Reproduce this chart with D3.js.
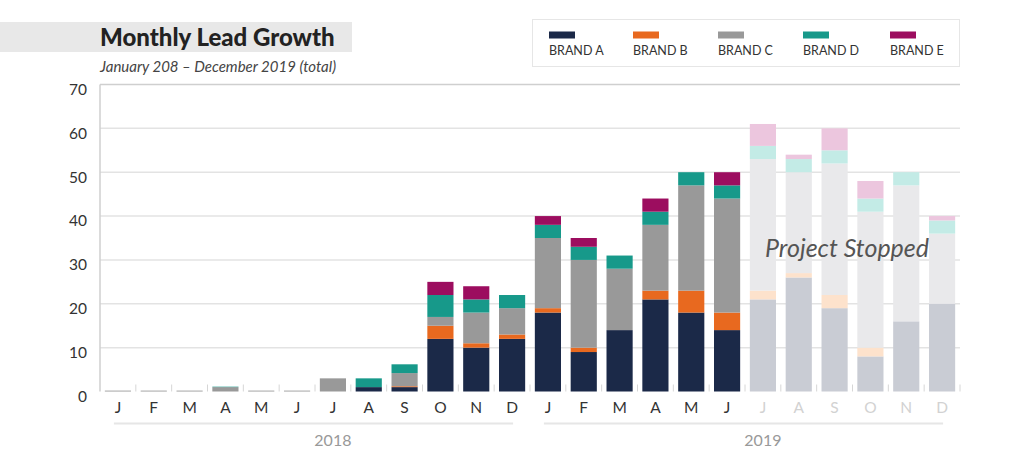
<!DOCTYPE html>
<html>
<head>
<meta charset="utf-8">
<script src="https://cdn.jsdelivr.net/npm/d3@7"></script>
<style>
  body { margin: 0; background: #fff; }
  svg { display: block; font-family: Lato, 'Open Sans', sans-serif; }
</style>
</head>
<body>
<div id="chart"></div>
<script>
// months Jan 2018 - Dec 2019
const months = ['J', 'F', 'M', 'A', 'M', 'J', 'J', 'A', 'S', 'O', 'N', 'D',
  'J', 'F', 'M', 'A', 'M', 'J', 'J', 'A', 'S', 'O', 'N', 'D']
const years = ['2018', '2019']
const brands = ['BRAND A', 'BRAND B', 'BRAND C', 'BRAND D', 'BRAND E']
const brandA = [0, 0, 0, 0, 0, 0, 0, 1, 1, 12, 10, 12, 18, 9, 14, 21, 18, 14, 21, 26, 19, 8, 16, 20]
const brandB = [0, 0, 0, 0, 0, 0, 0, 0, 0.2, 3, 1, 1, 1, 1, 0, 2, 5, 4, 2, 1, 3, 2, 0, 0]
const brandC = [0.2, 0.2, 0.2, 1, 0.2, 0.2, 3, 0, 3, 2, 7, 6, 16, 20, 14, 15, 24, 26, 30, 23, 30, 31, 31, 16]
const brandD = [0, 0, 0, 0.1, 0, 0, 0, 2, 2, 5, 3, 3, 3, 3, 3, 3, 3, 3, 3, 3, 3, 3, 3, 3]
const brandE = [0, 0, 0, 0, 0, 0, 0, 0, 0, 3, 3, 0, 2, 2, 0, 3, 0, 3, 5, 1, 5, 4, 0, 1]
const stoppedFrom = 18 // Jul 2019 onwards is faded
const yTicks = [0, 10, 20, 30, 40, 50, 60, 70]

const colors = ['#1b2948', '#e8691f', '#999999', '#17998a', '#9c0d5f']
const fadedColors = ['#c9ccd4', '#fde2cc', '#e9e9eb', '#c3ebe6', '#ecc6de']

const width = 1024
const height = 466
const margin = { top: 84.5, right: 64, bottom: 74.5, left: 100 }

const svg = d3.select('#chart')
  .append('svg')
  .attr('width', width)
  .attr('height', height)

const x = d3.scaleBand()
  .domain(d3.range(months.length))
  .range([margin.left, width - margin.right])
  .paddingInner(0.27)
  .paddingOuter(0.135)

const y = d3.scaleLinear()
  .domain([0, 70])
  .range([height - margin.bottom, margin.top])

// title block
svg.append('rect')
  .attr('x', 0).attr('y', 22)
  .attr('width', 352).attr('height', 30)
  .attr('fill', '#e8e8e8')
svg.append('text')
  .attr('x', 100).attr('y', 45.5)
  .attr('font-size', 24)
  .attr('font-weight', 900)
  .attr('fill', '#222')
  .text('Monthly Lead Growth')
svg.append('text')
  .attr('x', 100).attr('y', 72)
  .attr('font-size', 15)
  .attr('font-style', 'italic')
  .attr('fill', '#444')
  .text('January 208 – December 2019 (total)')

// legend
const legend = svg.append('g')
legend.append('rect')
  .attr('x', 532.5).attr('y', 19.5)
  .attr('width', 427).attr('height', 47)
  .attr('fill', '#fff')
  .attr('stroke', '#e6e6e6')
const legendX = [549, 633, 718, 803, 890]
brands.forEach((b, i) => {
  legend.append('rect')
    .attr('x', legendX[i]).attr('y', 31.5)
    .attr('width', 26).attr('height', 7)
    .attr('fill', colors[i])
  legend.append('text')
    .attr('x', legendX[i]).attr('y', 54.5)
    .attr('font-size', 12.5)
    .attr('fill', '#333')
    .text(b)
})

// gridlines
svg.append('g')
  .selectAll('line')
  .data(yTicks.slice(1))
  .enter()
  .append('line')
  .attr('x1', margin.left)
  .attr('x2', width - margin.right)
  .attr('y1', d => y(d))
  .attr('y2', d => y(d))
  .attr('stroke', d => d === 70 ? '#cfcfcf' : '#e3e3e3')
  .attr('stroke-width', 1.5)

svg.append('line')
  .attr('x1', margin.left).attr('x2', margin.left)
  .attr('y1', y(70)).attr('y2', y(0))
  .attr('stroke', '#cfcfcf')
  .attr('stroke-width', 1.5)

// y labels
svg.append('g')
  .selectAll('text')
  .data(yTicks)
  .enter()
  .append('text')
  .attr('x', 87)
  .attr('y', d => y(d) + 5)
  .attr('dy', '0.35em')
  .attr('text-anchor', 'end')
  .attr('font-size', 15.5)
  .attr('fill', '#333')
  .text(d => d)

// stacked bars
const table = months.map((m, i) => ({
  i,
  v: [brandA[i], brandB[i], brandC[i], brandD[i], brandE[i]]
}))
const stack = d3.stack()
  .keys([0, 1, 2, 3, 4])
  .value((d, k) => d.v[k])(table)

svg.append('g')
  .selectAll('g')
  .data(stack)
  .enter()
  .append('g')
  .selectAll('rect')
  .data(layer => layer.map(s => ({ s, k: layer.key })))
  .enter()
  .append('rect')
  .attr('x', d => x(d.s.data.i))
  .attr('width', x.bandwidth())
  .attr('y', d => y(d.s[1]))
  .attr('height', d => y(d.s[0]) - y(d.s[1]))
  .attr('fill', d => d.s.data.i >= stoppedFrom ? fadedColors[d.k] : colors[d.k])

// band ticks along the baseline
svg.append('g')
  .selectAll('line')
  .data(d3.range(1, months.length + 1))
  .enter()
  .append('line')
  .attr('x1', d => margin.left + d * x.step())
  .attr('x2', d => margin.left + d * x.step())
  .attr('y1', y(0) - 7)
  .attr('y2', y(0))
  .attr('stroke', '#d6d6d6')
  .attr('stroke-width', 1)

// month labels
svg.append('g')
  .selectAll('text')
  .data(months)
  .enter()
  .append('text')
  .attr('x', (d, i) => x(i) + x.bandwidth() / 2)
  .attr('y', 408)
  .attr('dy', '0.35em')
  .attr('text-anchor', 'middle')
  .attr('font-size', 15.5)
  .attr('fill', (d, i) => i >= stoppedFrom ? '#d2d2d2' : '#333')
  .text(d => d)

// year groups
years.forEach((yr, j) => {
  const first = j * 12
  const last = j * 12 + 11
  svg.append('line')
    .attr('x1', x(first) + x.bandwidth() / 2 - 4)
    .attr('x2', x(last) + x.bandwidth() / 2 + 1)
    .attr('y1', 423.5).attr('y2', 423.5)
    .attr('stroke', '#e6e6e6')
    .attr('stroke-width', 2)
  svg.append('text')
    .attr('x', x(first + 6) + x.bandwidth() / 2)
    .attr('y', 440)
    .attr('dy', '0.35em')
    .attr('text-anchor', 'middle')
    .attr('font-size', 16)
    .attr('fill', '#999')
    .text(yr)
})

// annotation
svg.append('text')
  .attr('x', 847)
  .attr('y', 248)
  .attr('dy', '0.35em')
  .attr('text-anchor', 'middle')
  .attr('font-size', 25)
  .attr('font-style', 'italic')
  .attr('fill', '#555')
  .text('Project Stopped')
</script>
</body>
</html>
